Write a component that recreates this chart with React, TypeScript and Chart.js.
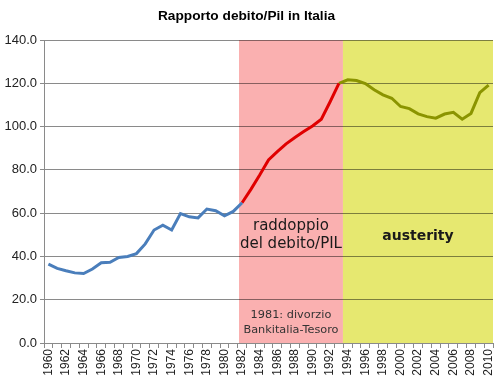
import React, { useEffect, useRef } from "react";
import { Chart, registerables } from "chart.js";

Chart.register(...registerables);

const years = [
  "1960", "1961", "1962", "1963", "1964", "1965", "1966", "1967", "1968", "1969",
  "1970", "1971", "1972", "1973", "1974", "1975", "1976", "1977", "1978", "1979",
  "1980", "1981", "1982", "1983", "1984", "1985", "1986", "1987", "1988", "1989",
  "1990", "1991", "1992", "1993", "1994", "1995", "1996", "1997", "1998", "1999",
  "2000", "2001", "2002", "2003", "2004", "2005", "2006", "2007", "2008", "2009",
  "2010",
];

// 1960-1982
const debtBefore = [
  36.4, 34.5, 33.4, 32.4, 32.1, 34.2, 37.1, 37.3, 39.5, 40.0,
  41.3, 45.8, 52.2, 54.4, 52.2, 59.8, 58.3, 57.8, 61.9, 61.1,
  58.8, 60.8, 64.8,
];
// 1982-1993
const debtDoubling = [64.8, 71.0, 77.6, 84.6, 88.4, 92.0, 95.0, 97.7, 100.3, 103.4, 111.5, 120.0];
// 1993-2010
const debtAusterity = [
  120.0, 121.6, 121.3, 119.9, 117.0, 114.7, 113.1, 109.3, 108.3, 105.9,
  104.6, 103.9, 105.8, 106.6, 103.4, 106.1, 115.7, 119.2,
];

const yTicks = [0, 20, 40, 60, 80, 100, 120, 140];

// shaded periods in year units
const pinkFrom = 1981.65;
const pinkTo = 1993.45;

function pad(values: number[], startYear: string) {
  const start = years.indexOf(startYear);
  return years.map((_, i) => {
    const k = i - start;
    return k >= 0 && k < values.length ? values[k] : null;
  });
}

const shadePlugin = {
  id: "shade",
  beforeDatasetsDraw(chart: any) {
    const { ctx, chartArea } = chart;
    const x = chart.scales.x;
    const base = Number(years[0]);
    const p0 = x.getPixelForValue(pinkFrom - base);
    const p1 = x.getPixelForValue(pinkTo - base);
    ctx.save();
    ctx.globalCompositeOperation = "multiply";
    ctx.fillStyle = "#FAB0B0";
    ctx.fillRect(p0, chartArea.top, p1 - p0, chartArea.bottom - chartArea.top);
    ctx.fillStyle = "#E6E870";
    ctx.fillRect(p1, chartArea.top, chartArea.right - p1, chartArea.bottom - chartArea.top);
    ctx.restore();
  },
  afterDraw(chart: any) {
    const { ctx, chartArea } = chart;
    const x = chart.scales.x;
    const y = chart.scales.y;
    const base = Number(years[0]);
    const p0 = x.getPixelForValue(pinkFrom - base);
    const p1 = x.getPixelForValue(pinkTo - base);
    const cPink = (p0 + p1) / 2;
    const cYellow = (p1 + chartArea.right) / 2;
    ctx.save();
    ctx.textAlign = "center";
    ctx.textBaseline = "middle";
    ctx.fillStyle = "#1a1a1a";
    ctx.font = "15px 'DejaVu Sans'";
    ctx.fillText("raddoppio", cPink, y.getPixelForValue(53.9));
    ctx.fillText("del debito/PIL", cPink, y.getPixelForValue(45.6));
    ctx.font = "bold 14px 'DejaVu Sans'";
    ctx.fillText("austerity", cYellow, y.getPixelForValue(49.1));
    ctx.fillStyle = "#333333";
    ctx.font = "11.3px 'DejaVu Sans'";
    ctx.fillText("1981: divorzio", cPink, y.getPixelForValue(13.1));
    ctx.fillText("Bankitalia-Tesoro", cPink, y.getPixelForValue(5.8));
    ctx.restore();
  },
};

export default function App() {
  const ref = useRef<HTMLCanvasElement | null>(null);
  useEffect(() => {
    if (!ref.current) return;
    const chart = new Chart(ref.current, {
      type: "line",
      data: {
        labels: years,
        datasets: [
          {
            data: pad(debtBefore, "1960"),
            borderColor: "#4A7EBB",
            borderWidth: 3,
            pointRadius: 0,
            tension: 0,
          },
          {
            data: pad(debtDoubling, "1982"),
            borderColor: "#E00000",
            borderWidth: 3,
            pointRadius: 0,
            tension: 0,
          },
          {
            data: pad(debtAusterity, "1993"),
            borderColor: "#8B9400",
            borderWidth: 3,
            pointRadius: 0,
            tension: 0,
          },
        ],
      },
      options: {
        animation: false,
        responsive: true,
        maintainAspectRatio: false,
        layout: { padding: { left: 0, right: 7, top: 0, bottom: 0 } },
        plugins: {
          legend: { display: false },
          tooltip: { enabled: false },
          title: {
            display: true,
            text: "Rapporto debito/Pil in Italia",
            color: "#000",
            font: { family: "'Liberation Sans'", size: 13.7, weight: "bold" },
            padding: { top: 7.8, bottom: 15.8 },
          },
        },
        scales: {
          x: {
            offset: true,
            grid: {
              offset: true,
              drawOnChartArea: false,
              drawTicks: true,
              tickLength: 5,
              color: "#8a8a8a",
            },
            border: { color: "#8a8a8a" },
            ticks: {
              autoSkip: false,
              minRotation: 90,
              maxRotation: 90,
              padding: 1,
              color: "#222",
              font: { family: "'Liberation Sans'", size: 12 },
              callback: (_v: any, i: number) => (Number(years[i]) % 2 === 0 ? years[i] : ""),
            },
            afterFit: (s: any) => {
              s.height = 38;
              s.paddingLeft = 0;
              s.paddingRight = 0;
            },
          },
          y: {
            min: yTicks[0],
            max: yTicks[yTicks.length - 1],
            grid: { color: "#8a8a8a", tickLength: 4 },
            border: { color: "#8a8a8a" },
            ticks: {
              stepSize: 20,
              padding: 3,
              color: "#222",
              font: { family: "'Liberation Sans'", size: 13 },
              callback: (v: any) => Number(v).toFixed(1),
            },
            afterFit: (s: any) => {
              s.width = 44;
            },
          },
        },
      },
      plugins: [shadePlugin],
    });
    return () => chart.destroy();
  }, []);
  return (
    <div style={{ position: "fixed", left: 0, top: 0, width: 500, height: 381, background: "#fff" }}>
      <canvas ref={ref} />
    </div>
  );
}
